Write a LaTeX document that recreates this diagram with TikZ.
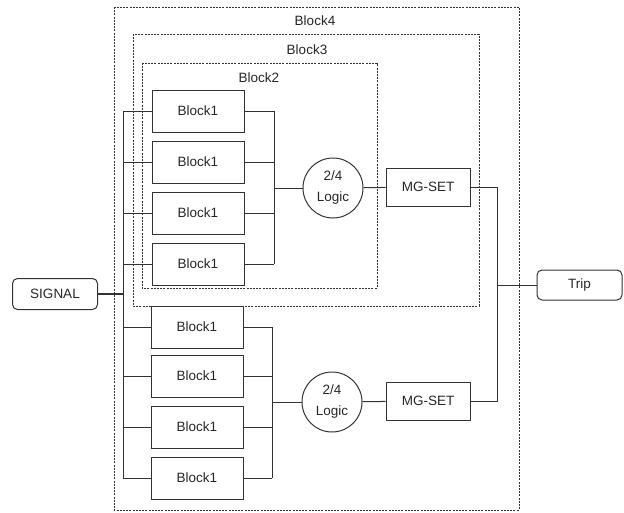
\documentclass[tikz,border=0pt]{standalone}
\usepackage{fontspec}
\setmainfont{Liberation Sans}
\usepackage{tikz}

\begin{document}
\begin{tikzpicture}[x=1pt,y=-1pt,
  font=\fontsize{13.5}{21}\selectfont,
  every node/.style={text=black!85},
  wire/.style={draw=black!80,line width=1pt},
  blk/.style={draw=black!80,line width=1pt,minimum width=92pt,minimum height=42pt,inner sep=0pt},
  mgset/.style={draw=black!80,line width=1pt,minimum width=84pt,minimum height=38pt,inner sep=0pt},
  logic/.style={draw=black!80,line width=1pt,circle,minimum size=60pt,inner sep=0pt,align=center},
  io/.style={draw=black!80,line width=1pt,rounded corners=5pt,minimum width=85pt,minimum height=31pt,inner sep=0pt},
  group/.style={draw=black!80,line width=1pt,dash pattern=on 2pt off 1.2pt}]
\useasboundingbox (0,0) rectangle (624,512);

% nested groups
\draw[group] (114,7) rectangle (519,510);
\node (lb4) at (315,21) {Block4};
\draw[group] (133,34) rectangle (479,306);
\node (lb3) at (307,50) {Block3};
\draw[group] (142,63) rectangle (377,288);
\node (lb2) at (259,78) {Block2};

% upper branch
\node[blk] (t1) at (198,111) {Block1};
\node[blk] (t2) at (198,162) {Block1};
\node[blk] (t3) at (198,213) {Block1};
\node[blk] (t4) at (198,264) {Block1};
\node[logic] (lg1) at (333,188) {2/4\\Logic};
\node[mgset] (ms1) at (428,187) {MG-SET};

% lower branch
\node[blk] (u1) at (197,327) {Block1};
\node[blk] (u2) at (197,376) {Block1};
\node[blk] (u3) at (197,427) {Block1};
\node[blk] (u4) at (197,478) {Block1};
\node[logic] (lg2) at (332,402) {2/4\\Logic};
\node[mgset] (ms2) at (428,401) {MG-SET};

% in and out
\node[io] (sig) at (55,294) {SIGNAL};
\node[io,minimum height=30pt] (trip) at (579.5,285) {Trip};

\coordinate (busL) at (123,0);
\coordinate (busT) at (274,0);
\coordinate (busU) at (272,0);
\coordinate (busR) at (497,0);

% wiring
\draw[wire,line width=1.6pt] (sig.east) -- (sig.east -| busL);
\draw[wire] (busL |- t1) -- (busL |- u4);
\foreach \b in {t1,t2,t3,t4,u1,u2,u3,u4}
  \draw[wire] (busL |- \b.west) -- (\b.west);
\foreach \b in {t1,t2,t3,t4}
  \draw[wire] (\b.east) -- (\b.east -| busT);
\foreach \b in {u1,u2,u3,u4}
  \draw[wire] (\b.east) -- (\b.east -| busU);
\draw[wire] (busT |- t1) -- (busT |- t4);
\draw[wire] (busU |- u1) -- (busU |- u4);
\draw[wire] (busT |- lg1.west) -- (lg1.west);
\draw[wire] (busU |- lg2.west) -- (lg2.west);
\draw[wire] (lg1) -- (ms1);
\draw[wire] (lg2) -- (ms2);
\draw[wire] (ms1.east) -- (busR |- ms1.east) -- (busR |- ms2.east) -- (ms2.east);
\draw[wire] (busR |- trip.west) -- (trip.west);
\end{tikzpicture}
\end{document}
